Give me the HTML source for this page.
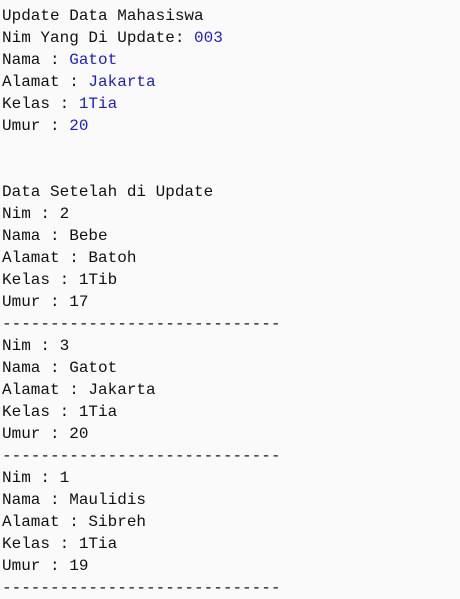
<!DOCTYPE html>
<html><head><meta charset="utf-8"><style>
html,body{margin:0;padding:0;background:#fafafa;width:460px;height:599px;overflow:hidden}
pre{margin:0;padding:5px 0 0 2px;font-family:"Liberation Mono",monospace;font-size:16px;line-height:22px;color:#111}
b{font-weight:normal;color:#1c1cd0}
</style></head><body><pre>Update Data Mahasiswa
Nim Yang Di Update: <b>003</b>
Nama : <b>Gatot</b>
Alamat : <b>Jakarta</b>
Kelas : <b>1Tia</b>
Umur : <b>20</b>


Data Setelah di Update
Nim : 2
Nama : Bebe
Alamat : Batoh
Kelas : 1Tib
Umur : 17
-----------------------------
Nim : 3
Nama : Gatot
Alamat : Jakarta
Kelas : 1Tia
Umur : 20
-----------------------------
Nim : 1
Nama : Maulidis
Alamat : Sibreh
Kelas : 1Tia
Umur : 19
-----------------------------</pre></body></html>
